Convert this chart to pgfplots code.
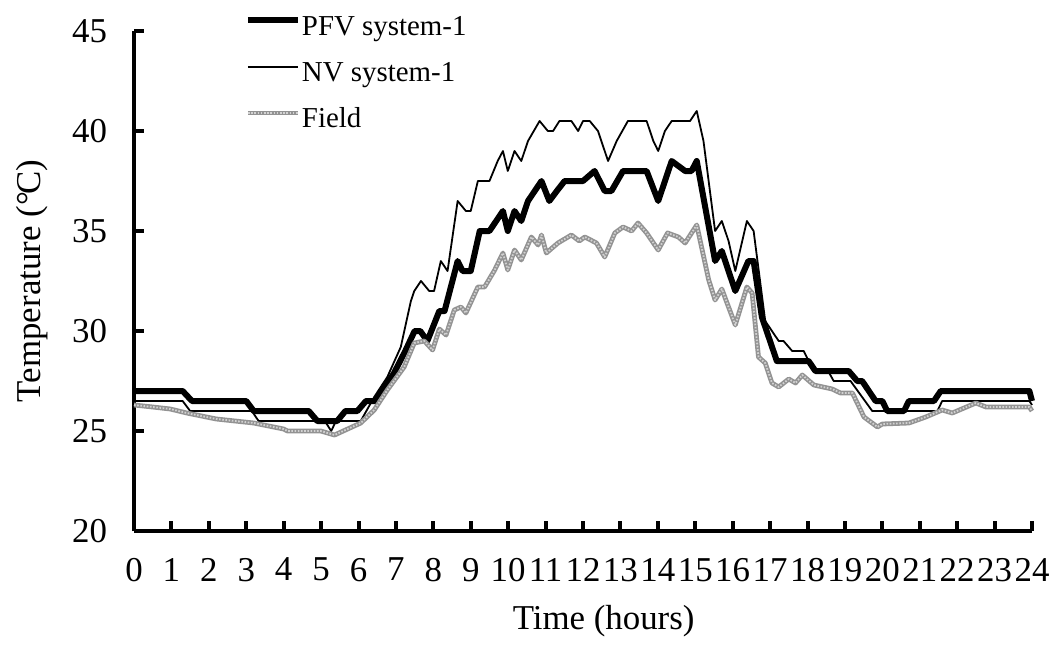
\documentclass[border=0pt]{standalone}
\usepackage{pgfplots}
\pgfplotsset{compat=1.18}
\usepackage{fontspec}
\setmainfont{Liberation Serif}
\begin{document}
\begin{tikzpicture}
\begin{axis}[
  at={(0,0)}, anchor=south west,
  scale only axis, width=449bp, height=250bp,
  xmin=0, xmax=24, ymin=20, ymax=45,
  axis lines=left, axis line style={line width=2bp, -},
  xtick={0,...,24}, ytick={20,25,...,45},
  tick align=inside, major tick length=5bp,
  tick style={line width=2bp, black},
  xticklabel style={yshift=-10bp},
  yticklabel style={xshift=-10bp},
  ticklabel style={font=\fontsize{17.5}{20}\selectfont},
  /pgf/number format/assume math mode=true,
  xlabel={Time (hours)}, ylabel={Temperature (°\kern-0.08em C)},
  label style={font=\fontsize{17.5}{20}\selectfont},
  xlabel style={at={(axis description cs:0.523,-0.135)}, anchor=north},
  ylabel style={at={(axis description cs:-0.088,0.5)}, anchor=south},
  clip=false,
  legend cell align=left,
  legend image code/.code={\draw[#1] (0bp,3.9bp) -- (25bp,3.9bp);},
  legend style={at={(axis description cs:0.1236,1.032)}, anchor=north west,
    draw=none, fill=none, inner sep=0pt, outer sep=0pt,
    font=\fontsize{14.5}{16}\selectfont, row sep=10.2bp, column sep=0.5bp,
    nodes={inner sep=0pt, text height=10bp, text depth=3bp}},
]
\addplot[black, line width=3bp, line join=round] coordinates {
(0,27) (1.3,27) (1.55,26.5) (3.0,26.5) (3.2,26) (4.67,26) (4.9,25.5) (5.43,25.5) (5.65,26) (5.97,26) (6.2,26.5) (6.45,26.5) (6.95,27.9) (7.25,29) (7.5,30) (7.65,30) (7.84,29.5) (8.16,31) (8.3,31) (8.65,33.5) (8.78,33) (9.0,33) (9.24,35) (9.5,35) (9.86,36) (9.99,35) (10.17,36) (10.35,35.5) (10.53,36.5) (10.89,37.5) (11.1,36.5) (11.3,37) (11.51,37.5) (12.0,37.5) (12.31,38) (12.58,37) (12.76,37) (13.07,38) (13.7,38) (14.01,36.5) (14.37,38.5) (14.73,38) (14.9,38) (15.04,38.5) (15.53,33.5) (15.71,34) (16.07,32) (16.42,33.5) (16.56,33.5) (16.78,30.7) (17.18,28.5) (18.03,28.5) (18.21,28) (19.1,28) (19.33,27.5) (19.46,27.5) (19.82,26.5) (20.0,26.5) (20.13,26) (20.58,26) (20.71,26.5) (21.38,26.5) (21.56,27) (23.93,27) (24,26.5)
};
\addlegendentry{PFV system-1}
\addplot[black, line width=0.9bp, line join=round] coordinates {
(0,26.5) (1.3,26.5) (1.5,26) (3.15,26) (3.33,25.5) (5.1,25.5) (5.27,25) (5.4,25.5) (6.06,25.5) (6.42,26.7) (6.77,27.7) (7.13,29.2) (7.4,31.5) (7.49,32) (7.67,32.5) (7.89,32) (8.02,32) (8.2,33.5) (8.38,33) (8.65,36.5) (8.87,36) (9.0,36) (9.19,37.5) (9.5,37.5) (9.72,38.5) (9.86,39) (9.99,38) (10.17,39) (10.35,38.5) (10.53,39.5) (10.84,40.5) (11.06,40) (11.2,40) (11.37,40.5) (11.69,40.5) (11.87,40) (12.0,40.5) (12.18,40.5) (12.4,40) (12.67,38.5) (12.9,39.5) (13.2,40.5) (13.7,40.5) (13.88,39.5) (14.01,39) (14.19,40) (14.37,40.5) (14.86,40.5) (15.04,41) (15.22,39.5) (15.53,35) (15.71,35.5) (15.89,34.5) (16.07,33) (16.38,35.5) (16.56,35) (16.87,30.5) (17.23,29.5) (17.36,29.5) (17.59,29) (17.9,29) (18.03,28.5) (18.15,28) (18.55,28) (18.7,27.5) (19.15,27.5) (19.73,26) (21.47,26) (21.6,26.5) (23.93,26.5) (24,26.3)
};
\addlegendentry{NV system-1}
\addplot[draw=gray!85, line width=2.4bp, line join=round,
  postaction={draw=gray!35, line width=0.9bp, dash pattern=on 0.8bp off 0.8bp}] coordinates {
(0,26.3) (0.5,26.2) (0.97,26.1) (1.41,25.9) (2.2,25.6) (3.2,25.4) (4.0,25.1) (4.1,25.0) (4.99,25.0) (5.36,24.8) (6.06,25.4) (6.42,26.05) (6.77,27.05) (7.22,28.2) (7.49,29.4) (7.76,29.5) (7.98,29.05) (8.16,30.1) (8.34,29.8) (8.56,31.05) (8.74,31.2) (8.87,30.9) (9.19,32.2) (9.37,32.2) (9.64,33.05) (9.86,33.9) (9.99,33.05) (10.17,34.05) (10.35,33.55) (10.62,34.7) (10.8,34.3) (10.89,34.8) (11.02,33.9) (11.33,34.4) (11.69,34.8) (11.9,34.5) (12.05,34.7) (12.36,34.4) (12.58,33.7) (12.85,34.9) (13.07,35.2) (13.3,35.0) (13.47,35.4) (13.7,34.9) (14.01,34.05) (14.26,34.9) (14.55,34.7) (14.73,34.4) (15.04,35.3) (15.36,32.55) (15.53,31.55) (15.71,32.1) (16.07,30.3) (16.38,32.2) (16.52,31.9) (16.69,28.7) (16.87,28.4) (17.05,27.4) (17.23,27.2) (17.5,27.6) (17.68,27.4) (17.86,27.8) (18.17,27.3) (18.66,27.1) (18.88,26.9) (19.2,26.9) (19.51,25.7) (19.87,25.2) (20.0,25.35) (20.71,25.4) (21.16,25.7) (21.6,26.05) (21.87,25.9) (22.5,26.4) (22.77,26.2) (23.93,26.2) (24,26.0)
};
\addlegendentry{Field}
\end{axis}
\pgfresetboundingbox
\useasboundingbox (-67bp,-57.5bp) rectangle (465bp,265.5bp);
\end{tikzpicture}
\end{document}
